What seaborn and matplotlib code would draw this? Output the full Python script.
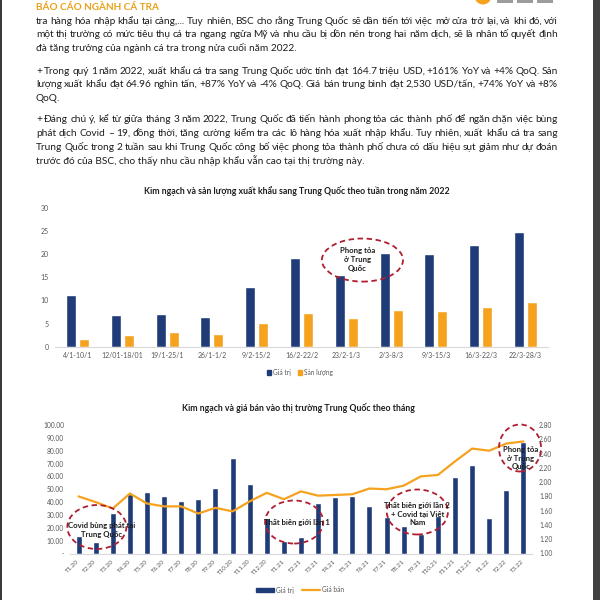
import matplotlib
matplotlib.use("Agg")
import matplotlib.pyplot as plt
import numpy as np
import pandas as pd
import seaborn as sns
from matplotlib.patches import Ellipse, Rectangle, Patch, Circle
from matplotlib.lines import Line2D

# Weekly export to China, 2022
weeks = ['4/1-10/1', '12/01-18/01', '19/1-25/1', '26/1-1/2', '9/2-15/2', '16/2-22/2',
         '23/2-1/3', '2/3-8/3', '9/3-15/3', '16/3-22/3', '22/3-28/3']
week_value = [11.2, 6.9, 7.1, 6.5, 12.9, 19.2, 15.5, 20.3, 20.0, 21.9, 24.8]
week_volume = [1.6, 2.5, 3.2, 2.7, 5.1, 7.3, 6.3, 7.9, 7.7, 8.5, 9.7]

# Monthly value and selling price
months = ['T1.20', 'T2.20', 'T3.20', 'T4.20', 'T5.20', 'T6.20', 'T7.20', 'T8.20', 'T9.20',
          'T10.20', 'T11.20', 'T12.20', 'T1.21', 'T2.21', 'T3.21', 'T4.21', 'T5.21', 'T6.21',
          'T7.21', 'T8.21', 'T9.21', 'T10.21', 'T11.21', 'T12.21', 'T1.22', 'T2.22', 'T3.22']
month_value = [13.9, 9.2, 31.9, 46.2, 47.5, 44.9, 40.5, 42.8, 50.9, 74.3, 53.8, 27.5, 10.0,
               12.8, 39.1, 44.2, 44.7, 37.2, 28.6, 21.4, 14.9, 29.2, 59.8, 68.6, 27.9, 49.4, 86.5]
month_price = [1.80, 1.72, 1.63, 1.84, 1.70, 1.66, 1.66, 1.56, 1.64, 1.59, 1.73, 1.85, 1.76,
               1.87, 1.81, 1.82, 1.83, 1.91, 1.90, 1.95, 2.08, 2.10, 2.29, 2.47, 2.44, 2.54, 2.57]

paragraphs = [
    ["tra hàng hóa nhập khẩu tại cảng,... Tuy nhiên, BSC cho rằng Trung Quốc sẽ dần tiến tới việc mở cửa trở lại, và khi đó, với",
     "một thị trường có mức tiêu thụ cá tra ngang ngửa Mỹ và nhu cầu bị dồn nén trong hai năm dịch, sẽ là nhân tố quyết định",
     "đà tăng trưởng của ngành cá tra trong nửa cuối năm 2022."],
    ["+ Trong quý 1 năm 2022, xuất khẩu cá tra sang Trung Quốc ước tính đạt 164.7 triệu USD, +161% YoY và +4% QoQ. Sản",
     "lượng xuất khẩu đạt 64.96 nghìn tấn, +87% YoY và -4% QoQ. Giá bán trung bình đạt 2,530 USD/tấn, +74% YoY và +8%",
     "QoQ."],
    ["+ Đáng chú ý, kể từ giữa tháng 3 năm 2022, Trung Quốc đã tiến hành phong tỏa các thành phố để ngăn chặn việc bùng",
     "phát dịch Covid – 19, đồng thời, tăng cường kiểm tra các lô hàng hóa xuất nhập khẩu. Tuy nhiên, xuất khẩu cá tra sang",
     "Trung Quốc trong 2 tuần sau khi Trung Quốc công bố việc phong tỏa thành phố chưa có dấu hiệu sụt giảm như dự đoán",
     "trước đó của BSC, cho thấy nhu cầu nhập khẩu vẫn cao tại thị trường này."],
]
line_y = [[20.7, 34.3, 48.3], [71.0, 84.3, 98.3], [119.0, 133.3, 146.7, 160.7]]

BLUE = '#1F3C78'
ORANGE = '#F5A21E'
RED = '#B01E32'
GREY = '#595959'
TEXT = '#1e1e1e'

sns.set_theme(style='white')
plt.rcParams['font.family'] = ['Lato', 'DejaVu Sans']

fig = plt.figure(figsize=(6, 6), dpi=100)
page = fig.add_axes([0, 0, 1, 1])
page.set_xlim(0, 600)
page.set_ylim(600, 0)
page.axis('off')
renderer = fig.canvas.get_renderer()

# page edges and the cut-off logo at the top
page.add_patch(Rectangle((0, 0), 2, 600, color='#3a3a3a', lw=0))
page.add_patch(Rectangle((593, 0), 7, 600, color='#414141', lw=0))
page.add_patch(Circle((483, -4), 8.5, color=ORANGE, lw=0))
for x0 in (497, 517, 537):
    page.add_patch(Rectangle((x0, 0), 16, 2.5, color='#9c9c9c', lw=0))

page.text(36, 6.7 + 3, 'BÁO CÁO NGÀNH CÁ TRA', fontsize=7.2, fontweight='bold', color='#E9A21B', va='baseline')

body_size = 7.3
for para, ys in zip(paragraphs, line_y):
    for k, (line, y) in enumerate(zip(para, ys)):
        if k == len(para) - 1:
            page.text(36, y + 2.8, line, fontsize=body_size, color=TEXT, va='baseline')
            continue
        words = line.split(' ')
        arts = [page.text(0, y + 2.8, w, fontsize=body_size, color=TEXT, va='baseline') for w in words]
        widths = [a.get_window_extent(renderer).width for a in arts]
        gap = (558 - 36 - sum(widths)) / (len(words) - 1)
        x = 36
        for a, w in zip(arts, widths):
            a.set_x(x)
            x += w + gap

# ---- chart 1: weekly bars
page.text(297, 190.7, 'Kim ngạch và sản lượng xuất khẩu sang Trung Quốc theo tuần trong năm 2022',
          fontsize=6.3, fontweight='bold', color=TEXT, ha='center', va='center')

ax1 = fig.add_axes([55 / 600, 1 - 346.7 / 600, 493 / 600, 139 / 600])
ax1.set_facecolor('none')
df1 = pd.DataFrame({'week': weeks * 2,
                    'series': ['Giá trị'] * len(weeks) + ['Sản lượng'] * len(weeks),
                    'value': week_value + week_volume})
sns.barplot(data=df1, x='week', y='value', hue='series', palette=[BLUE, ORANGE],
            width=0.58, gap=0.23, saturation=1, legend=False, ax=ax1)
ax1.set_ylim(0, 30)
ax1.set_yticks(range(0, 31, 5))
ax1.set_xlabel('')
ax1.set_ylabel('')
for s in ['top', 'right', 'left']:
    ax1.spines[s].set_visible(False)
ax1.spines['bottom'].set_color('#D9D9D9')
ax1.spines['bottom'].set_linewidth(0.8)
ax1.tick_params(axis='both', length=0, labelsize=5, labelcolor=GREY)
ax1.tick_params(axis='y', pad=4.5)
ax1.tick_params(axis='x', pad=3.5)

ax1.add_patch(Ellipse((6.36, 18.7), 1.81, 9.3, fill=False, ec=RED, lw=1.3,
                      ls=(0, (3, 2)), clip_on=False, zorder=5))
ax1.text(6.25, 18.8, 'Phong tỏa\nở Trung\nQuốc', fontsize=5.6, fontweight='bold', color=TEXT,
         ha='center', va='center', linespacing=1.3, zorder=6)

fig.legend(handles=[Patch(color=BLUE, label='Giá trị'), Patch(color=ORANGE, label='Sản lượng')],
           loc='center', bbox_to_anchor=(0.5, 1 - 372 / 600), ncol=2, frameon=False,
           fontsize=4.8, handlelength=0.7, handleheight=0.7, handletextpad=0.3,
           columnspacing=1.0, labelcolor=GREY)

# ---- chart 2: monthly value and price
page.text(298, 408.3, 'Kim ngạch và giá bán vào thị trường Trung Quốc theo tháng',
          fontsize=6.3, fontweight='bold', color=TEXT, ha='center', va='center')

ax2 = fig.add_axes([70 / 600, 1 - 553.5 / 600, 462 / 600, 128.5 / 600])
ax2.set_facecolor('none')
sns.barplot(x=months, y=month_value, color=BLUE, width=0.35, saturation=1, ax=ax2)
ax2.set_ylim(0, 100)
ax2.set_yticks(range(0, 101, 10))
ax2.set_yticklabels(['-'] + ['%.2f' % v for v in range(10, 101, 10)])

ax3 = ax2.twinx()
sns.lineplot(x=np.arange(len(months)), y=month_price, color=ORANGE, lw=1.6, ax=ax3)
ax3.set_ylim(1.0, 2.8)
price_ticks = np.round(np.arange(1.0, 2.81, 0.2), 2)
ax3.set_yticks(price_ticks)
ax3.set_yticklabels(['%.2f' % v for v in price_ticks])
ax2.set_xlim(-0.5, len(months) - 0.5)

for a in (ax2, ax3):
    for s in ['top', 'right', 'left']:
        a.spines[s].set_visible(False)
    a.spines['bottom'].set_color('#D9D9D9')
    a.spines['bottom'].set_linewidth(0.8)
    a.tick_params(axis='both', length=0, labelsize=4.8, labelcolor=GREY)
ax3.spines['bottom'].set_visible(False)
ax2.tick_params(axis='y', pad=4.3)
ax3.tick_params(axis='y', pad=5)
ax2.tick_params(axis='x', pad=5, labelsize=4.5)
for lab in ax2.get_xticklabels():
    lab.set_rotation(45)
    lab.set_ha('right')
    lab.set_va('center')
    lab.set_rotation_mode('anchor')

notes = [((1.07, 20.6), 3.45, 34.2, (1.37, 18.3), 'Covid bùng phát tại\nTrung Quốc'),
         ((12.6, 24.5), 3.4, 33.5, (12.77, 24.0), 'Thất biên giới lần 1'),
         ((19.8, 32.3), 3.57, 35.0, (19.8, 30.7), 'Thất biên giới lần 2\n+ Covid tại Việt\nNam'),
         ((25.8, 82.1), 2.46, 36.6, (25.85, 74.3), 'Phong tỏa\nở Trung\nQuốc')]
for center, w, h, tpos, label in notes:
    ax3.add_patch(Ellipse(center, w, h, transform=ax2.transData, fill=False, ec=RED, lw=1.3,
                          ls=(0, (3, 2)), clip_on=False, zorder=5))
    ax3.text(tpos[0], tpos[1], label, transform=ax2.transData, fontsize=5.6, fontweight='bold',
             color=TEXT, ha='center', va='center', linespacing=1.25, zorder=6)

fig.legend(handles=[Patch(color=BLUE, label='Giá trị'),
                    Line2D([], [], color=ORANGE, lw=1.6, label='Giá bán')],
           loc='center', bbox_to_anchor=(0.5, 1 - 590 / 600), ncol=2, frameon=False,
           fontsize=4.8, handlelength=2.7, handleheight=0.6, handletextpad=0.3,
           columnspacing=1.2, labelcolor=GREY)

fig.savefig('out.png', dpi=100, facecolor='white')
